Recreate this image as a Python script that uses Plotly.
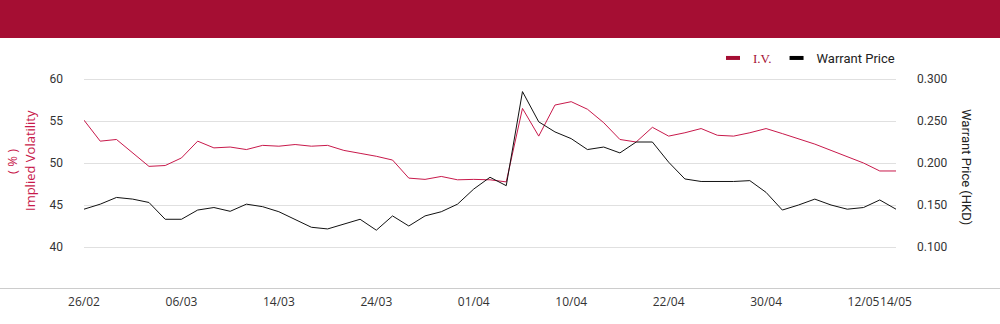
import plotly.graph_objects as go

dates = ["26/02","27/02","28/02","03/03","04/03","05/03","06/03","07/03","10/03","11/03",
         "12/03","13/03","14/03","17/03","18/03","19/03","20/03","21/03","24/03","25/03",
         "26/03","27/03","28/03","31/03","01/04","02/04","03/04","07/04","08/04","09/04",
         "10/04","11/04","14/04","15/04","16/04","17/04","22/04","23/04","24/04","25/04",
         "28/04","29/04","30/04","02/05","06/05","07/05","08/05","09/05","12/05","13/05","14/05"]

iv = [55.1, 52.6, 52.8, 51.2, 49.6, 49.7, 50.6, 52.6, 51.8, 51.9,
      51.6, 52.1, 52.0, 52.2, 52.0, 52.1, 51.5, 51.15, 50.8, 50.35,
      48.2, 48.05, 48.4, 48.0, 48.05, 48.0, 47.75, 56.5, 53.2, 56.9,
      57.3, 56.4, 54.8, 52.8, 52.5, 54.25, 53.2, 53.6, 54.1, 53.3,
      53.2, 53.6, 54.1, 53.5, 52.85, 52.25, 51.5, 50.75, 50.0, 49.05, 49.05]

price = [0.145, 0.151, 0.159, 0.157, 0.153, 0.133, 0.133, 0.144, 0.147, 0.1425,
         0.151, 0.148, 0.142, 0.133, 0.1235, 0.1215, 0.127, 0.133, 0.120, 0.137,
         0.125, 0.137, 0.142, 0.151, 0.169, 0.183, 0.173, 0.285, 0.249, 0.237,
         0.229, 0.216, 0.219, 0.212, 0.225, 0.225, 0.201, 0.181, 0.178, 0.178,
         0.178, 0.179, 0.165, 0.144, 0.150, 0.157, 0.150, 0.145, 0.147, 0.156, 0.145]

tick_labels = ["26/02","06/03","14/03","24/03","01/04","10/04","22/04","30/04","12/05","14/05"]
left_ticks = [40, 45, 50, 55, 60]
right_ticks = [0.100, 0.150, 0.200, 0.250, 0.300]

RED = "#a50e33"
LINE_RED = "#c8194b"

fig = go.Figure()
fig.add_trace(go.Scatter(x=dates, y=iv, mode="lines", line=dict(color=LINE_RED, width=1),
                         showlegend=False, yaxis="y"))
fig.add_trace(go.Scatter(x=dates, y=price, mode="lines", line=dict(color="#111111", width=1),
                         showlegend=False, yaxis="y2"))
# legend entries
fig.add_trace(go.Scatter(x=[None], y=[None], mode="markers",
                         name='<span style="color:#a50e33;font-family:Liberation Serif">I.V.</span>',
                         marker=dict(symbol="line-ew", size=10, line=dict(width=4, color=RED)), yaxis="y"))
fig.add_trace(go.Scatter(x=[None], y=[None], mode="markers", name="Warrant Price",
                         marker=dict(symbol="line-ew", size=10, line=dict(width=4, color="#000000")), yaxis="y2"))

L, R, T, B = 84, 104, 37, 35
W, H = 1000, 324
pw, ph = W - L - R, H - T - B

def px(x):
    return (x - L) / pw

def py(y):
    return (H - B - y) / ph

fig.update_layout(
    width=W, height=H,
    margin=dict(l=L, r=R, t=T, b=B, autoexpand=False),
    paper_bgcolor="white", plot_bgcolor="white",
    font=dict(family="Roboto", size=12, color="#333333"),
    xaxis=dict(type="category", range=[0, len(dates) - 1],
               tickvals=tick_labels, ticktext=tick_labels, tickangle=0, automargin=False,
               showgrid=False, showline=False, zeroline=False, ticks="",
               tickfont=dict(family="Open Sans", size=12, color="#333333"),
               ticklabelstandoff=4),
    yaxis=dict(range=[35, 65], tickvals=left_ticks, showgrid=True, gridcolor="#e0e0e0",
               zeroline=False, showline=False, ticks="", ticklabelstandoff=20, automargin=False,
               tickfont=dict(family="Roboto", size=12, color="#333333")),
    yaxis2=dict(range=[0.05, 0.35], tickvals=right_ticks, overlaying="y", side="right",
                showgrid=False, zeroline=False, showline=False, ticks="", automargin=False,
                tickformat=".3f", ticklabelstandoff=20,
                tickfont=dict(family="Roboto", size=12, color="#333333")),
    legend=dict(orientation="h", x=px(900), xanchor="right", y=py(58), yanchor="middle",
                font=dict(family="Roboto", size=13, color="#222222"),
                itemwidth=30, itemclick=False, traceorder="normal", bgcolor="rgba(0,0,0,0)"),
    shapes=[
        dict(type="rect", xref="paper", yref="paper", x0=px(0), x1=px(W), y0=py(38), y1=py(0),
             fillcolor=RED, line=dict(width=0), layer="above"),
        dict(type="line", xref="paper", yref="paper", x0=px(0), x1=px(W), y0=py(288.5), y1=py(288.5),
             line=dict(color="#cccccc", width=1)),
    ],
    annotations=[
        dict(text="Implied Volatility", xref="paper", yref="paper", x=px(30), y=py(161),
             textangle=-90, showarrow=False, xanchor="center", yanchor="middle",
             font=dict(family="Open Sans", size=13, color=LINE_RED)),
        dict(text="( % )", xref="paper", yref="paper", x=px(12), y=py(162),
             textangle=-90, showarrow=False, xanchor="center", yanchor="middle",
             font=dict(family="Open Sans", size=13, color=LINE_RED)),
        dict(text="Warrant Price (HKD)", xref="paper", yref="paper", x=px(967), y=py(167),
             textangle=90, showarrow=False, xanchor="center", yanchor="middle",
             font=dict(family="Roboto", size=13, color="#222222")),
    ],
)

fig.write_html("out.html", config={"displayModeBar": False},
               post_script="document.body.style.margin='0';document.body.style.overflow='hidden';")
